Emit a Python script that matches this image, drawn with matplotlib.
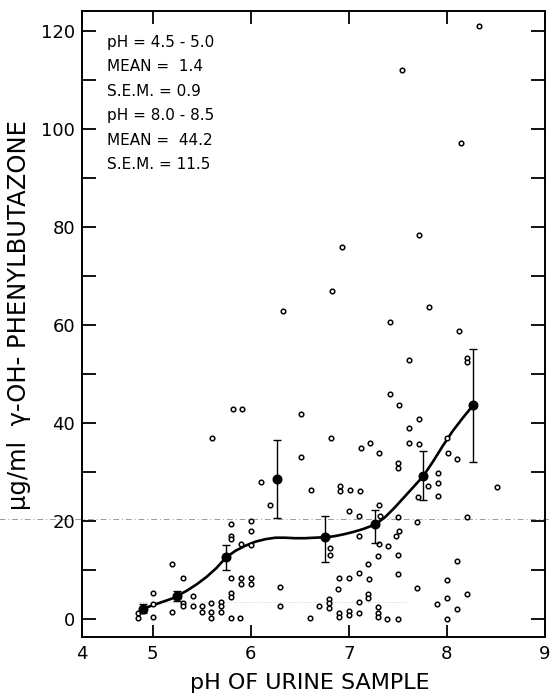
import numpy as np
import matplotlib
matplotlib.use('Agg')
import matplotlib.pyplot as plt

# --- data ---
# individual urine samples: pH and concentration (ug/ml)
sample_ph = [8.33, 7.54, 8.14, 7.72, 6.93, 6.83, 7.82,
             6.33, 5.82, 5.91, 6.51, 5.61, 6.51, 6.10, 6.61, 6.20, 5.80, 6.00, 6.00,
             5.80, 5.80, 5.90, 6.00, 5.20, 5.31, 5.80, 5.90, 5.90, 6.00, 6.00, 6.30,
             5.00, 5.80, 5.80, 5.41, 5.00, 5.31, 5.31, 5.41, 5.50, 5.50, 5.60, 5.60,
             5.60, 5.70, 5.70, 5.70, 5.20, 5.00, 4.85, 4.85, 5.80, 5.89, 6.30, 6.60,
             6.70,
             7.42, 8.12, 8.20, 8.20, 7.61, 7.42, 7.51, 7.72, 7.61, 6.82, 7.61, 7.72,
             8.00, 7.12, 7.22, 7.31, 8.01, 8.10, 7.50, 7.50, 7.91, 7.91, 7.81, 7.91,
             7.71, 8.51, 6.91, 6.91, 7.01, 7.11, 7.00, 7.10, 7.31, 7.32, 7.50, 8.20,
             7.70, 7.10, 7.51, 7.48, 6.81, 6.81, 7.31, 7.40, 7.30, 7.50, 7.20, 8.10,
             6.90, 7.00, 7.10, 7.21, 7.50, 8.00, 6.89, 7.70, 7.20, 7.20, 7.10, 8.20,
             8.00, 7.90, 8.10, 6.80, 6.80, 6.80, 6.90, 6.90, 7.00, 7.00, 7.10, 7.30,
             7.30, 7.30, 7.39, 7.50, 8.00]
sample_conc = [121.1, 112.1, 97.2, 78.4, 75.9, 66.9, 63.7,
               62.9, 42.8, 42.8, 41.8, 36.9, 33.0, 28.0, 26.3, 23.3, 19.4, 20.1, 18.0,
               17.0, 16.3, 15.4, 15.2, 11.2, 8.4, 8.4, 8.4, 7.1, 8.4, 7.1, 6.6,
               5.4, 5.4, 4.5, 4.7, 3.0, 3.3, 2.7, 2.7, 2.7, 1.5, 3.2, 1.5,
               0.3, 3.5, 2.6, 1.5, 1.5, 0.4, 1.3, 0.3, 0.2, 0.2, 2.6, 0.2,
               2.6,
               60.7, 58.8, 53.2, 52.5, 52.9, 45.9, 43.7, 40.8, 38.9, 37.0, 36.0, 35.8,
               36.9, 35.0, 35.9, 33.8, 33.8, 32.6, 31.8, 30.8, 29.9, 27.8, 27.2, 25.2,
               25.0, 26.9, 27.2, 26.1, 26.3, 26.1, 22.0, 21.0, 23.3, 21.0, 20.9, 20.9,
               19.9, 16.9, 18.0, 17.0, 14.4, 13.1, 15.4, 14.9, 12.9, 13.0, 11.2, 11.9,
               8.4, 8.4, 9.3, 8.1, 9.1, 8.0, 6.1, 6.3, 5.2, 4.2, 3.4, 5.2,
               4.3, 3.1, 2.0, 4.1, 3.2, 2.2, 1.3, 0.5, 1.7, 0.8, 1.2, 2.4,
               1.2, 0.5, 0.1, 0.1, 0.0]

# group means with S.E.M. bars (lower / upper extent)
mean_ph = [4.90, 5.25, 5.75, 6.27, 6.76, 7.27, 7.76, 8.27]
mean_conc = [2.1, 4.7, 12.7, 28.5, 16.7, 19.3, 29.2, 43.7]
sem_lo = [0.9, 1.0, 2.6, 7.9, 5.0, 3.7, 4.9, 11.6]
sem_hi = [0.9, 1.0, 2.4, 8.0, 4.3, 2.9, 5.1, 11.5]

# hand drawn trend curve
curve_ph = [4.90, 5.00, 5.10, 5.20, 5.25, 5.35, 5.45, 5.55, 5.65, 5.75, 5.85, 5.95,
            6.05, 6.15, 6.25, 6.35, 6.45, 6.55, 6.65, 6.76, 6.85, 6.95, 7.05, 7.15,
            7.27, 7.37, 7.47, 7.57, 7.67, 7.76, 7.86, 7.96, 8.06, 8.16, 8.27]
curve_conc = [2.1, 2.8, 3.5, 4.2, 4.7, 5.8, 7.1, 8.6, 10.4, 12.6, 14.0, 15.0,
              15.8, 16.3, 16.6, 16.6, 16.5, 16.5, 16.6, 16.7, 16.9, 17.3, 17.8, 18.4,
              19.3, 20.8, 22.8, 25.0, 27.2, 29.2, 32.2, 35.4, 38.4, 41.0, 43.7]

stats_lines = ['pH = 4.5 - 5.0', 'MEAN =  1.4', 'S.E.M. = 0.9',
               'pH = 8.0 - 8.5', 'MEAN =  44.2', 'S.E.M. = 11.5']

x_ticks = [5, 6, 7, 8, 9]
x_ticklabels = ['4', '5', '6', '7', '8', '9']
y_ticks = [0, 20, 40, 60, 80, 100, 120]

plt.rcParams['font.family'] = ['DejaVu Sans']

fig = plt.figure(figsize=(5.5, 6.94), dpi=100)
ax = fig.add_axes([0.1491, 0.0821, 0.8418, 0.902])

xmin, xmax = 4.28, 9.0
ax.set_xlim(xmin, xmax)
ax.set_ylim(-3.67, 124.1)

# faint scanning marks of the original print
ax.axhline(20.5, xmin=-0.18, xmax=1.02, color='#9a9a9a', lw=0.7,
           ls=(0, (6, 3, 1, 3)), clip_on=False, zorder=0)
ax.plot([4.85, 7.6], [3.5, 3.5], color='#c8c8c8', lw=0.6, ls=':', zorder=0)

# samples
ax.plot(sample_ph, sample_conc, 'o', ms=3.3, mfc='white', mec='black', mew=1.1,
        zorder=3)

# trend curve
ax.plot(curve_ph, curve_conc, '-', color='black', lw=1.9, zorder=2)

# means with S.E.M.
ax.errorbar(mean_ph, mean_conc, yerr=[sem_lo, sem_hi], fmt='o', ms=6.2,
            color='black', ecolor='black', elinewidth=1.0, capsize=3,
            capthick=1.0, zorder=4)

ax.set_xticks([xmin] + x_ticks)
ax.set_xticklabels(x_ticklabels)
ax.set_yticks(y_ticks)
ax.set_yticks(np.arange(10, 121, 20), minor=True)

ax.tick_params(axis='x', which='major', direction='in', length=9, width=1.3,
               top=True, labelsize=13, pad=6)
ax.tick_params(axis='y', which='both', direction='in', length=10, width=1.3,
               right=True, labelsize=13, pad=5)

for s in ax.spines.values():
    s.set_linewidth(1.4)

ax.set_xlabel('pH OF URINE SAMPLE', fontsize=16)
ax.xaxis.set_label_coords(0.493, -0.057)
ax.set_ylabel('\u00b5g/ml  \u03b3-OH- PHENYLBUTAZONE', fontsize=17.5)
ax.yaxis.set_label_coords(-0.110, 0.514)

for i, line in enumerate(stats_lines):
    ax.text(0.054, 0.950 - i * 0.0391, line, transform=ax.transAxes,
            fontsize=11, va='center', ha='left')

fig.savefig('out.png', dpi=100)
